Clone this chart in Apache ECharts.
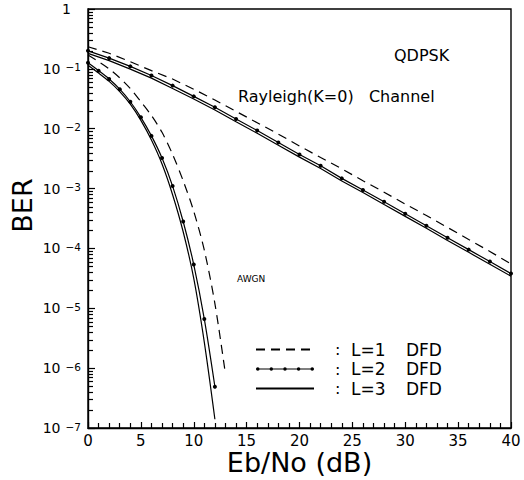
<!DOCTYPE html>
<html>
<head>
<meta charset="utf-8">
<script src="https://cdn.jsdelivr.net/npm/echarts@6/dist/echarts.min.js"></script>
<style>
  html, body { margin: 0; padding: 0; background: #fff; }
  #chart { width: 524px; height: 480px; }
</style>
</head>
<body>
<div id="chart"></div>
<script>
// Eb/No (dB) sample points
const rayleighX = [0, 2, 4, 6, 8, 10, 12, 14, 16, 18, 20, 22, 24, 26, 28, 30, 32, 34, 36, 38, 40];
const awgnX = [0, 1, 2, 3, 4, 5, 6, 7, 8, 9, 10, 11, 12, 13];

// BER, Rayleigh (K=0) channel
const rayleighL1 = [0.234, 0.182, 0.132, 0.0933, 0.0676, 0.0457, 0.0302, 0.0195, 0.0126, 0.00813, 0.00513,
  0.00331, 0.00214, 0.00135, 0.00087, 0.00055, 0.000355, 0.000224, 0.000141, 0.0000891, 0.000055];
const rayleighL2 = [0.200, 0.151, 0.110, 0.0776, 0.0525, 0.0347, 0.0229, 0.0145, 0.00933, 0.00589, 0.00372,
  0.0024, 0.00148, 0.00095, 0.0006, 0.00038, 0.00024, 0.000151, 0.0000955, 0.0000603, 0.000038];
const rayleighL3 = [0.181, 0.137, 0.099, 0.070, 0.047, 0.0313, 0.0206, 0.0131, 0.0084, 0.0053, 0.00335,
  0.00216, 0.00134, 0.00086, 0.00054, 0.000343, 0.000217, 0.000136, 0.000086, 0.0000543, 0.0000343];

// BER, AWGN channel
const awgnL1 = [0.170, 0.132, 0.100, 0.0708, 0.0468, 0.0282, 0.0166, 0.0087, 0.00372, 0.00135, 0.000417,
  0.0000933, 0.0000120, 7.9e-7];
const awgnL2 = [0.126, 0.0933, 0.0676, 0.0457, 0.0282, 0.0155, 0.00759, 0.00324, 0.0011, 0.000282,
  0.0000537, 0.0000066, 4.9e-7];
const awgnL3 = [0.115, 0.0851, 0.0617, 0.0417, 0.0257, 0.0138, 0.00646, 0.00257, 0.00079, 0.00019,
  0.0000316, 0.0000027, 1.4e-7];

const legendNames = ['L=1', 'L=2', 'L=3'];

// minor ticks of the log axis: 2..9 x 10^n
const minorTickValues = [];
for (let e = -7; e < 0; e++) {
  for (let k = 2; k <= 9; k++) minorTickValues.push(k * Math.pow(10, e));
}

const FONT = 'DejaVu Sans';

function pairs(xs, ys) {
  return ys.map((y, i) => [xs[i], y]);
}

const dashed = { color: '#000', width: 1.2, type: [9, 6] };
const solid = { color: '#000', width: 1.2 };

// legend icon for the dotted line: thin bar with small dots, padded to 58x14
const dot = (x) => ' M' + x + ',7 a1.8,1.8 0 1,1 3.6,0 a1.8,1.8 0 1,1 -3.6,0 Z';
const dottedIcon = 'path://M0,0 L0.01,0 L0,0.01 Z M58,14 L57.99,14 L58,13.99 Z M0,6.4 L58,6.4 L58,7.6 L0,7.6 Z' +
  dot(0) + dot(13.5) + dot(27.2) + dot(40.8) + dot(54.4);

const texts = [
  { type: 'text', left: 394, top: 47, style: { text: 'QDPSK', fontSize: 16, fontFamily: FONT, fill: '#000' } },
  { type: 'text', left: 238, top: 88, style: { text: 'Rayleigh(K=0)   Channel', fontSize: 16, fontFamily: FONT, fill: '#000' } },
  { type: 'text', left: 237, top: 274, style: { text: 'AWGN', fontSize: 9, fontFamily: FONT, fill: '#000' } }
];

const chart = echarts.init(document.getElementById('chart'), null, { renderer: 'svg' });

chart.setOption({
  backgroundColor: '#fff',
  animation: false,
  color: ['#000'],
  textStyle: { fontFamily: FONT, color: '#000' },
  grid: {
    left: 88, right: 13, top: 9, bottom: 52,
    outerBoundsMode: 'none',
    containLabel: false,
    show: true, borderColor: '#000', borderWidth: 1.4
  },
  xAxis: {
    type: 'value',
    min: 0, max: 40, interval: 5,
    name: 'Eb/No (dB)',
    nameLocation: 'middle',
    nameGap: 21,
    nameMoveOverlap: false,
    nameTextStyle: { fontSize: 27, color: '#000', fontFamily: FONT },
    axisLine: { show: true, lineStyle: { color: '#000', width: 1.4 } },
    axisTick: { show: true, inside: true, length: 6, lineStyle: { color: '#000', width: 1.2 } },
    minorTick: { show: true, splitNumber: 5, length: 5, lineStyle: { color: '#000', width: 1.2 } },
    splitLine: { show: false },
    axisLabel: { fontSize: 15, color: '#000', margin: 5, fontFamily: FONT }
  },
  yAxis: {
    type: 'log',
    logBase: 10,
    min: 1e-7, max: 1,
    interval: 1,
    name: 'BER',
    nameLocation: 'middle',
    nameGap: 52,
    nameMoveOverlap: false,
    nameRotate: 90,
    nameTextStyle: { fontSize: 27, color: '#000', fontFamily: FONT, padding: [0, 0, 0, 26] },
    axisLine: { show: true, lineStyle: { color: '#000', width: 1.4 } },
    axisTick: { show: true, inside: true, length: 7, lineStyle: { color: '#000', width: 1.2 } },
    splitLine: { show: false },
    axisLabel: {
      margin: 7,
      fontFamily: FONT,
      formatter: function (v) {
        const e = Math.round(Math.log10(v));
        if (e === 0) return '{one|1}';
        return '{b|10}{s|' + String(e).replace('-', '\u2212') + '}';
      },
      rich: {
        one: { fontSize: 14, color: '#000', fontFamily: FONT, padding: [0, 10, 0, 0] },
        b: { fontSize: 14, color: '#000', fontFamily: FONT, padding: [0, 5, 0, 0] },
        s: { fontSize: 10.5, color: '#000', fontFamily: FONT, verticalAlign: 'top' }
      }
    }
  },
  legend: {
    data: [
      { name: 'L=1', itemStyle: { opacity: 0 } },
      { name: 'L=2', icon: dottedIcon, itemStyle: { color: '#000' } },
      { name: 'L=3', itemStyle: { opacity: 0 } }
    ],
    orient: 'vertical',
    left: 250,
    top: 336,
    itemWidth: 58,
    itemHeight: 14,
    itemGap: 2.5,
    selectedMode: false,
    formatter: function (n) { return '{p| }{a|:}{b|' + n + '}{d|DFD}'; },
    textStyle: {
      fontFamily: FONT,
      color: '#000',
      lineHeight: 14,
      rich: {
        p: { fontSize: 16, width: 16, lineHeight: 14, fontFamily: FONT },
        a: { fontSize: 16, width: 16, lineHeight: 14, fontFamily: FONT },
        b: { fontSize: 17, width: 55, lineHeight: 14, fontFamily: FONT },
        d: { fontSize: 17, lineHeight: 14, fontFamily: FONT }
      }
    }
  },
  graphic: texts,
  series: [
    { name: 'L=1', type: 'line', data: pairs(rayleighX, rayleighL1), symbol: 'none', lineStyle: dashed },
    { name: 'L=2', type: 'line', data: pairs(rayleighX, rayleighL2), symbol: 'circle', symbolSize: 4,
      showAllSymbol: true, itemStyle: { color: '#000' }, lineStyle: solid },
    { name: 'L=3', type: 'line', data: pairs(rayleighX, rayleighL3), symbol: 'none', lineStyle: solid },
    { name: 'L=1', type: 'line', data: pairs(awgnX, awgnL1), symbol: 'none', smooth: 0.3, lineStyle: dashed },
    { name: 'L=2', type: 'line', data: pairs(awgnX, awgnL2), symbol: 'circle', symbolSize: 4,
      showAllSymbol: true, smooth: 0.3, itemStyle: { color: '#000' }, lineStyle: solid },
    { name: 'L=3', type: 'line', data: pairs(awgnX, awgnL3), symbol: 'none', smooth: 0.3, lineStyle: solid }
  ]
});

// log minor ticks, placed through the y axis scale
const tickLines = minorTickValues.map(function (v) {
  const p = chart.convertToPixel({ gridIndex: 0 }, [0, v]);
  const y = Math.round(p[1]) + 0.5;
  return {
    type: 'line',
    silent: true,
    z: 10,
    shape: { x1: p[0], y1: y, x2: p[0] + 5, y2: y },
    style: { stroke: '#000', lineWidth: 1.2 }
  };
});
chart.setOption({ graphic: texts.concat(tickLines) });
</script>
</body>
</html>
